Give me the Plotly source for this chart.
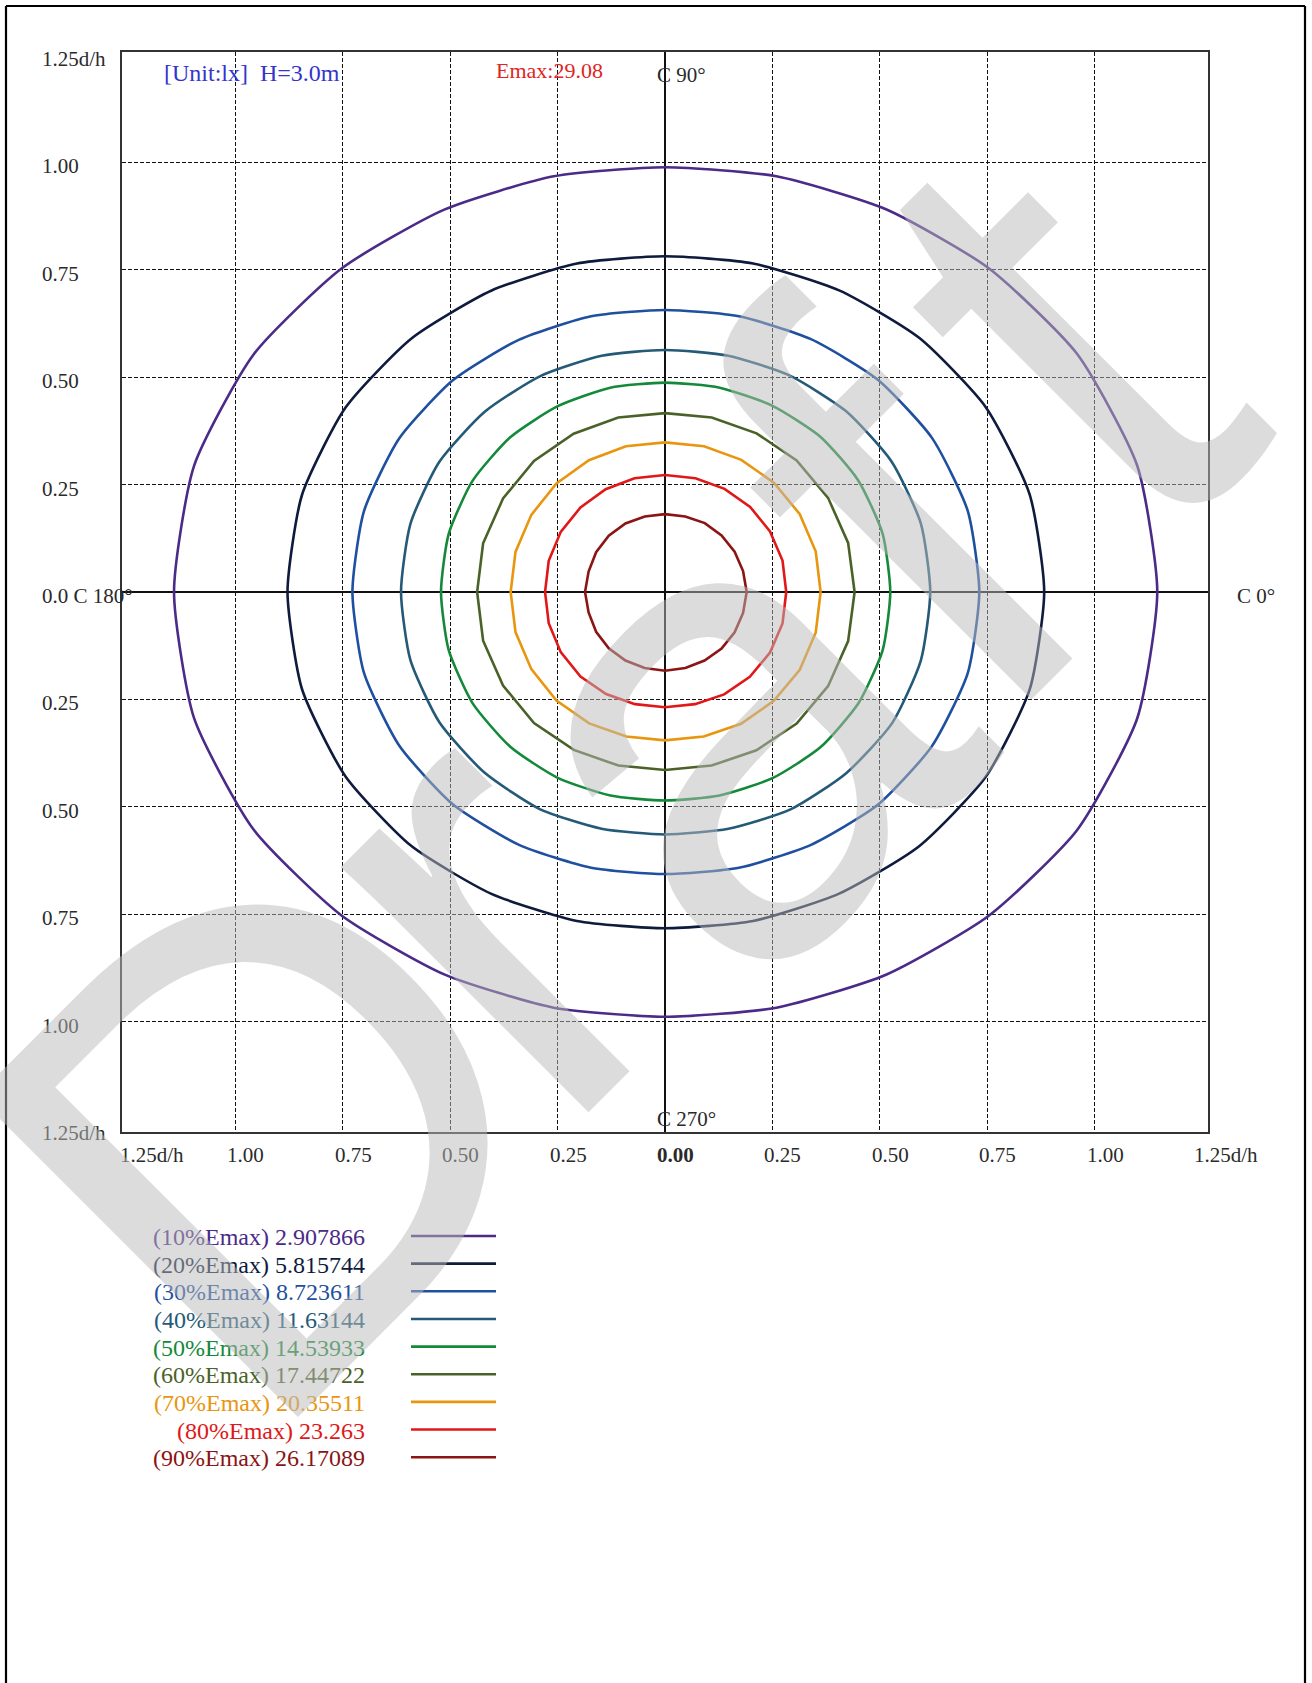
import numpy as np
import plotly.graph_objects as go

# ---------------- data ----------------
angles_deg = [0, 15, 30, 45, 60, 75, 90, 105, 120, 135, 150, 165,
              180, 195, 210, 225, 240, 255, 270, 285, 300, 315, 330, 345]

r10 = [1.145, 1.137, 1.107, 1.065, 1.028, 1.001, 0.988, 1.001, 1.027, 1.064, 1.105, 1.134,
       1.142, 1.134, 1.105, 1.064, 1.027, 1.001, 0.988, 1.001, 1.028, 1.065, 1.107, 1.137]
r20 = [0.882, 0.878, 0.861, 0.836, 0.810, 0.791, 0.781, 0.791, 0.809, 0.834, 0.858, 0.874,
       0.878, 0.874, 0.858, 0.835, 0.810, 0.792, 0.782, 0.792, 0.810, 0.836, 0.861, 0.878]
r30 = [0.731, 0.729, 0.717, 0.699, 0.679, 0.664, 0.656, 0.664, 0.678, 0.697, 0.714, 0.725,
       0.727, 0.725, 0.714, 0.698, 0.679, 0.664, 0.656, 0.664, 0.679, 0.700, 0.717, 0.729]
r40 = [0.617, 0.616, 0.608, 0.595, 0.581, 0.569, 0.563, 0.569, 0.580, 0.593, 0.606, 0.613,
       0.614, 0.613, 0.606, 0.594, 0.583, 0.570, 0.564, 0.570, 0.584, 0.596, 0.610, 0.616]
r50 = [0.524, 0.524, 0.519, 0.511, 0.500, 0.492, 0.487, 0.492, 0.499, 0.509, 0.517, 0.521,
       0.521, 0.521, 0.517, 0.509, 0.499, 0.490, 0.485, 0.490, 0.500, 0.511, 0.519, 0.524]
r60 = [0.441, 0.441, 0.438, 0.433, 0.426, 0.420, 0.416, 0.420, 0.425, 0.431, 0.435, 0.438,
       0.437, 0.438, 0.435, 0.431, 0.424, 0.418, 0.414, 0.418, 0.425, 0.433, 0.438, 0.441]
r70 = [0.362, 0.363, 0.362, 0.359, 0.355, 0.351, 0.348, 0.351, 0.354, 0.357, 0.359, 0.360,
       0.359, 0.360, 0.359, 0.357, 0.353, 0.348, 0.345, 0.348, 0.354, 0.358, 0.362, 0.363]
r80 = [0.282, 0.283, 0.282, 0.280, 0.277, 0.274, 0.272, 0.274, 0.276, 0.278, 0.280, 0.280,
       0.279, 0.280, 0.280, 0.278, 0.274, 0.270, 0.268, 0.270, 0.275, 0.279, 0.282, 0.283]
r90 = [0.190, 0.188, 0.187, 0.186, 0.185, 0.182, 0.181, 0.182, 0.184, 0.185, 0.185, 0.184,
       0.186, 0.184, 0.185, 0.185, 0.184, 0.183, 0.183, 0.183, 0.184, 0.186, 0.187, 0.188]

levels_pct = ["10", "20", "30", "40", "50", "60", "70", "80", "90"]
levels_lux = ["2.907866", "5.815744", "8.723611", "11.63144", "14.53933",
              "17.44722", "20.35511", "23.263", "26.17089"]
radii = [r10, r20, r30, r40, r50, r60, r70, r80, r90]
colors = ["#4b2a88", "#0e1b3d", "#1f50a0", "#245a78", "#14893a",
          "#4a6228", "#e8960f", "#e01818", "#8b1414"]

x_tick_vals = [-1.25, -1.0, -0.75, -0.5, -0.25, 0.0, 0.25, 0.5, 0.75, 1.0, 1.25]
x_tick_text = ["1.25d/h", "1.00", "0.75", "0.50", "0.25", "<b>0.00</b>",
               "0.25", "0.50", "0.75", "1.00", "1.25d/h"]
y_tick_vals = [1.25, 1.0, 0.75, 0.5, 0.25, 0.0, -0.25, -0.5, -0.75, -1.0, -1.25]
y_tick_text = ["1.25d/h", "1.00", "0.75", "0.50", "0.25", "0.0 C 180°",
               "0.25", "0.50", "0.75", "1.00", "1.25d/h"]
grid_vals = [-1.0, -0.75, -0.5, -0.25, 0.25, 0.5, 0.75, 1.0]

emax_text = "Emax:29.08"
unit_text = "[Unit:lx]\u00a0\u00a0H=3.0m"
watermark_letters = ["D", "r", "a", "f", "t"]

# ---------------- layout geometry ----------------
W, H = 1312, 1683
L, R, T, B = 122, 104, 52, 551
PW, PH = W - L - R, H - T - B


def px(xp):
    return (xp - L) / PW


def py(yp):
    return 1 - (yp - T) / PH


SERIF = "Liberation Serif, Times New Roman, serif"
TXT = "#2a2a2a"

fig = go.Figure()

theta = np.deg2rad(np.array(angles_deg + [angles_deg[0]], dtype=float))
for i, rr in enumerate(radii):
    r = np.array(rr + [rr[0]])
    fig.add_trace(go.Scatter(
        x=r * np.cos(theta), y=r * np.sin(theta), mode="lines",
        line=dict(color=colors[i], width=2.6,
                  shape="spline" if i < 5 else "linear", smoothing=0.6),
        hoverinfo="skip", showlegend=False))

axis_common = dict(showgrid=True, gridcolor="#111", gridwidth=1, griddash="4px,2px",
                   zeroline=True, zerolinecolor="#111", zerolinewidth=1.6,
                   showticklabels=False, ticks="", showline=True, linecolor="#333",
                   linewidth=1.6, mirror=True, tickvals=grid_vals, fixedrange=True)

fig.update_layout(
    width=W, height=H, margin=dict(l=L, r=R, t=T, b=B, pad=0),
    paper_bgcolor="white", plot_bgcolor="white", showlegend=False,
    xaxis=dict(range=[-1.263, 1.263], **axis_common),
    yaxis=dict(range=[-1.256, 1.256], **axis_common),
)

ann = []
for v, t in zip(x_tick_vals, x_tick_text):
    ann.append(dict(x=v, y=0, xref="x", yref="paper", text=t, showarrow=False,
                    xanchor="left", yanchor="middle", xshift=-10, yshift=-23,
                    font=dict(family=SERIF, size=21, color=TXT)))
for v, t in zip(y_tick_vals, y_tick_text):
    ann.append(dict(x=px(40), y=v, xref="paper", yref="y", text=t, showarrow=False,
                    xanchor="left", yanchor="middle", yshift=-4,
                    font=dict(family=SERIF, size=21, color=TXT)))

ann.append(dict(x=px(1235), y=0, xref="paper", yref="y", text="C 0°", showarrow=False,
                xanchor="left", yanchor="middle", yshift=-4,
                font=dict(family=SERIF, size=21, color=TXT)))
ann.append(dict(x=0, y=py(75), xref="x", yref="paper", text="C 90°", showarrow=False,
                xanchor="left", yanchor="middle", xshift=-10,
                font=dict(family=SERIF, size=21, color=TXT)))
ann.append(dict(x=0, y=py(1119), xref="x", yref="paper", text="C 270°", showarrow=False,
                xanchor="left", yanchor="middle", xshift=-10,
                font=dict(family=SERIF, size=21, color=TXT)))
ann.append(dict(x=px(162), y=py(73), xref="paper", yref="paper", text=unit_text,
                showarrow=False, xanchor="left", yanchor="middle",
                font=dict(family=SERIF, size=24, color="#3434cc")))
ann.append(dict(x=px(494), y=py(70), xref="paper", yref="paper", text=emax_text,
                showarrow=False, xanchor="left", yanchor="middle",
                font=dict(family=SERIF, size=22, color="#e02424")))

shapes = []
row0, drow = 1236, 27.65
for i in range(len(levels_pct)):
    yy = py(row0 + i * drow)
    ann.append(dict(x=px(367), y=yy, xref="paper", yref="paper",
                    text=f"({levels_pct[i]}%Emax) {levels_lux[i]}", showarrow=False,
                    xanchor="right", yanchor="middle", yshift=-1,
                    font=dict(family=SERIF, size=24, color=colors[i])))
    shapes.append(dict(type="line", xref="paper", yref="paper",
                       x0=px(411), x1=px(496), y0=yy, y1=yy,
                       line=dict(color=colors[i], width=2.6)))

# page frame
for (x0, y0, x1, y1) in [(6, 6, 1305, 6), (6, 6, 6, 1683), (1305, 6, 1305, 1683)]:
    shapes.append(dict(type="line", xref="paper", yref="paper",
                       x0=px(x0), y0=py(y0), x1=px(x1), y1=py(y1),
                       line=dict(color="black", width=2.2)))

# watermark, one letter at a time (page pixel centres)
wm_pos = [(266, 1125), (472, 905), (715, 720), (894, 513), (1057, 334)]
for ch, (wx, wy) in zip(watermark_letters, wm_pos):
    ann.append(dict(x=px(wx), y=py(wy), xref="paper", yref="paper", text=ch,
                    showarrow=False, xanchor="center", yanchor="middle", textangle=-45,
                    font=dict(family="Liberation Sans, Arial, sans-serif", size=660,
                              color="rgba(185,185,185,0.5)")))

fig.update_layout(annotations=ann, shapes=shapes)
fig.write_html("out.html", config={"displayModeBar": False, "staticPlot": True},
               post_script="document.body.style.margin='0px';"
                           "document.body.style.overflow='hidden';")
